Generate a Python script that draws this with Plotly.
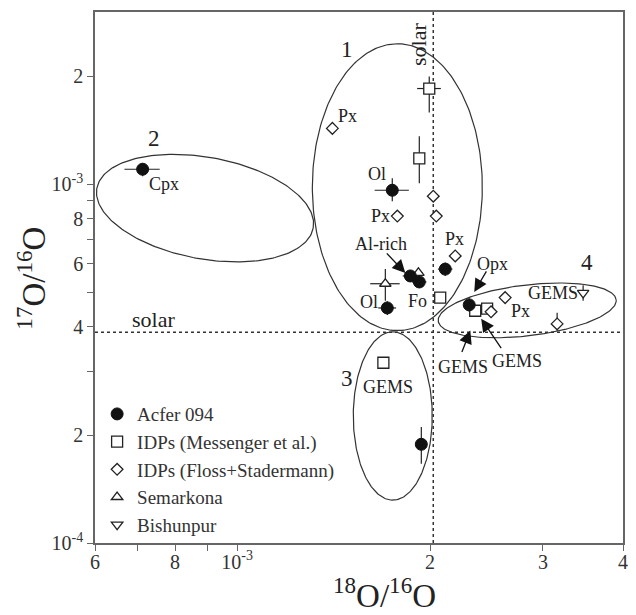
import math
import numpy as np
import plotly.graph_objects as go

# ---------------- data ----------------
acfer_x = [7.12e-4, 1.746e-3, 1.863e-3, 1.924e-3, 1.715e-3, 2.112e-3, 2.302e-3, 1.938e-3]
acfer_y = [1.101e-3, 9.62e-4, 5.55e-4, 5.34e-4, 4.52e-4, 5.80e-4, 4.61e-4, 1.884e-4]
acfer_ex = [0.045e-3, 0.107e-3, 0.05e-3, 0.05e-3, 0.055e-3, 0.055e-3, 0.03e-3, 0.02e-3]
acfer_eyp = [0.043e-3, 0.077e-3, 0.02e-3, 0.02e-3, 0.02e-3, 0.025e-3, 0.02e-3, 0.022e-3]
acfer_eym = [0.049e-3, 0.065e-3, 0.02e-3, 0.02e-3, 0.02e-3, 0.025e-3, 0.02e-3, 0.022e-3]

mess_x = [1.994e-3, 1.924e-3, 2.074e-3, 1.691e-3, 2.352e-3, 2.455e-3]
mess_y = [1.848e-3, 1.181e-3, 4.83e-4, 3.18e-4, 4.44e-4, 4.50e-4]
mess_ex = [0.085e-3, 0.025e-3, 0, 0, 0, 0]
mess_eyp = [0.147e-3, 0.18e-3, 0, 0, 0, 0]
mess_eym = [0.263e-3, 0.175e-3, 0, 0.012e-3, 0, 0]

floss_x = [1.408e-3, 2.023e-3, 2.045e-3, 1.778e-3, 2.189e-3, 2.619e-3, 3.157e-3, 2.490e-3]
floss_y = [1.431e-3, 9.26e-4, 8.15e-4, 8.15e-4, 6.31e-4, 4.83e-4, 4.08e-4, 4.41e-4]
floss_eyp = [0, 0, 0, 0, 0, 0, 0.03e-3, 0]
floss_eym = [0, 0, 0, 0, 0, 0, 0.017e-3, 0]

sem_x = [1.703e-3, 1.918e-3]
sem_y = [5.28e-4, 5.66e-4]
sem_ex = [0.09e-3, 0.03e-3]
sem_eyp = [0.052e-3, 0.02e-3]
sem_eym = [0.055e-3, 0.02e-3]

bish_x = [3.466e-3]
bish_y = [4.98e-4]
bish_ey = [0.025e-3]

solar_18 = 2.023e-3
solar_17 = 3.87e-4

x_tickvals = [6e-4, 7e-4, 8e-4, 9e-4, 1e-3, 2e-3, 3e-3, 4e-3]
x_ticktext = ["6", "", "8", "", "10<sup>-3</sup>", "2", "3", "4"]
y_tickvals = [1e-4, 2e-4, 3e-4, 4e-4, 5e-4, 6e-4, 7e-4, 8e-4, 9e-4, 1e-3, 2e-3]
y_ticktext = ["10<sup>-4</sup>", "2", "", "4", "", "6", "", "8", "", "10<sup>-3</sup>", "2"]

# ---------------- layout geometry ----------------
# (page body has an 8px default margin, so the figure is 8px smaller)
W, H = 628, 607
ML, MR, MT, MB = 87, 13, 2, 72
PW, PH = W - ML - MR, H - MT - MB
XR = [math.log10(6e-4), math.log10(4e-3)]
YR = [-4.0, math.log10(3.02e-3)]
KX = PW / (XR[1] - XR[0])
KY = PH / (YR[1] - YR[0])

# region outlines: centre (data), semi-axes (px), angle (deg, y up)
regions = [
    (1.778e-3, 9.81e-4, 144, 85, 90),
    (8.91e-4, 8.58e-4, 110, 51, -10.5),
    (1.749e-3, 2.26e-4, 84.5, 39.5, 90),
    (2.835e-3, 4.45e-4, 89.6, 25.5, 6.9),
]

SERIF = "Liberation Serif"
INK = "#222"
AX = "#666"

fig = go.Figure()

t = np.linspace(0, 2 * np.pi, 241)
for cx, cy, a, b, ang in regions:
    ph = math.radians(ang)
    u, v = a * np.cos(t), b * np.sin(t)
    dx = u * math.cos(ph) - v * math.sin(ph)
    dy = u * math.sin(ph) + v * math.cos(ph)
    ex = 10 ** (math.log10(cx) + dx / KX)
    ey = 10 ** (math.log10(cy) + dy / KY)
    fig.add_trace(go.Scatter(x=ex, y=ey, mode="lines", line=dict(color="#333", width=1.2),
                             showlegend=False, hoverinfo="skip"))

# solar lines
fig.add_trace(go.Scatter(x=[6e-4, 4e-3], y=[solar_17, solar_17], mode="lines",
                         line=dict(color="#333", width=1.5, dash="3px,3px"),
                         showlegend=False, hoverinfo="skip"))
fig.add_trace(go.Scatter(x=[solar_18, solar_18], y=[1e-4, 3.02e-3], mode="lines",
                         line=dict(color="#333", width=1.5, dash="3px,3px"),
                         showlegend=False, hoverinfo="skip"))

def err(arr_p, arr_m=None):
    d = dict(type="data", array=arr_p, color=INK, thickness=1.2, width=0, visible=True)
    if arr_m is not None:
        d["symmetric"] = False
        d["arrayminus"] = arr_m
    return d

mk_line = dict(color=INK, width=1.3)

fig.add_trace(go.Scatter(x=mess_x, y=mess_y, mode="markers", name="IDPs (Messenger et al.)",
                         error_x=err(mess_ex), error_y=err(mess_eyp, mess_eym),
                         marker=dict(symbol="square", size=11, color="white", line=mk_line)))
fig.add_trace(go.Scatter(x=floss_x, y=floss_y, mode="markers", name="IDPs (Floss+Stadermann)",
                         error_y=err(floss_eyp, floss_eym),
                         marker=dict(symbol="diamond", size=9, color="white", line=mk_line)))
fig.add_trace(go.Scatter(x=sem_x, y=sem_y, mode="markers", name="Semarkona",
                         error_x=err(sem_ex), error_y=err(sem_eyp, sem_eym),
                         marker=dict(symbol="triangle-up", size=10, color="white", line=mk_line)))
fig.add_trace(go.Scatter(x=bish_x, y=bish_y, mode="markers", name="Bishunpur",
                         error_y=err(bish_ey),
                         marker=dict(symbol="triangle-down", size=10, color="white", line=mk_line)))
fig.add_trace(go.Scatter(x=acfer_x, y=acfer_y, mode="markers", name="Acfer 094",
                         error_x=err(acfer_ex), error_y=err(acfer_eyp, acfer_eym),
                         marker=dict(symbol="circle", size=12, color="#111", line=dict(color="#111", width=1))))

# text labels (data coords)
labels = [
    ("Px", 1.485e-3, 1.545e-3), ("Cpx", 7.68e-4, 1.0e-3), ("Ol", 1.655e-3, 1.066e-3),
    ("Px", 1.673e-3, 8.15e-4), ("Al-rich", 1.679e-3, 6.81e-4), ("Px", 2.181e-3, 7.03e-4),
    ("Opx", 2.50e-3, 5.99e-4), ("Ol", 1.608e-3, 4.70e-4), ("Fo", 1.910e-3, 4.73e-4),
    ("Px", 2.764e-3, 4.44e-4), ("GEMS", 3.111e-3, 4.98e-4), ("GEMS", 1.721e-3, 2.73e-4),
    ("GEMS", 2.253e-3, 3.10e-4), ("GEMS", 2.734e-3, 3.22e-4),
]
region_labels = [("1", 1.485e-3, 2.371e-3), ("2", 7.41e-4, 1.342e-3),
                 ("3", 1.485e-3, 2.87e-4), ("4", 3.513e-3, 6.07e-4)]
arrows = [  # head (data), tail offset (px)
    (1.830e-3, 5.66e-4, -20, -21),
    (2.344e-3, 5.01e-4, 13, -22),
    (2.311e-3, 3.91e-4, -9, 23),
    (2.403e-3, 4.22e-4, 21, 31),
]

ann = []
for txt, x, y in labels:
    ann.append(dict(text=txt, x=math.log10(x), y=math.log10(y), xref="x", yref="y",
                    showarrow=False, font=dict(family=SERIF, size=18, color=INK)))
for txt, x, y in region_labels:
    ann.append(dict(text=txt, x=math.log10(x), y=math.log10(y), xref="x", yref="y",
                    showarrow=False, font=dict(family=SERIF, size=23, color=INK)))
for x, y, axp, ayp in arrows:
    ann.append(dict(text="", x=math.log10(x), y=math.log10(y), xref="x", yref="y",
                    showarrow=True, ax=axp, ay=ayp, arrowhead=2, arrowsize=2.0,
                    arrowwidth=1.3, arrowcolor="#111"))
ann.append(dict(text="solar", x=math.log10(7.41e-4), y=math.log10(4.19e-4), xref="x", yref="y",
                showarrow=False, font=dict(family=SERIF, size=22, color=INK)))
ann.append(dict(text="solar", x=math.log10(1.917e-3), y=math.log10(2.448e-3), xref="x", yref="y",
                showarrow=False, textangle=-90, font=dict(family=SERIF, size=22, color=INK)))
ann.append(dict(text="<sup>18</sup>O/<sup>16</sup>O", x=0.549, y=-0.094, xref="paper", yref="paper",
                showarrow=False, xanchor="center", yanchor="middle",
                font=dict(family=SERIF, size=33, color=INK)))
ann.append(dict(text="<sup>17</sup>O/<sup>16</sup>O", x=-0.12, y=0.499, xref="paper", yref="paper",
                showarrow=False, textangle=-90, xanchor="center", yanchor="middle",
                font=dict(family=SERIF, size=33, color=INK)))

fig.update_layout(
    width=W, height=H,
    margin=dict(l=ML, r=MR, t=MT, b=MB),
    paper_bgcolor="white", plot_bgcolor="white",
    annotations=ann,
    showlegend=True,
    legend=dict(x=0.004, y=-0.002, xanchor="left", yanchor="bottom",
                bgcolor="rgba(0,0,0,0)", borderwidth=0, traceorder="normal",
                font=dict(family=SERIF, size=19, color="#333")),
    xaxis=dict(type="log", range=XR, tickvals=x_tickvals, ticktext=x_ticktext,
               ticks="outside", ticklen=6, tickcolor=AX, tickwidth=1.3,
               ticklabelstandoff=-6,
               showline=True, linecolor=AX, linewidth=1.5, mirror=True,
               showgrid=False, zeroline=False,
               tickfont=dict(family=SERIF, size=20, color="#333")),
    yaxis=dict(type="log", range=YR, tickvals=y_tickvals, ticktext=y_ticktext,
               ticks="outside", ticklen=6, tickcolor=AX, tickwidth=1.3,
               showline=True, linecolor=AX, linewidth=1.5, mirror=True,
               showgrid=False, zeroline=False,
               tickfont=dict(family=SERIF, size=20, color="#333")),
)

order = ["Acfer 094", "IDPs (Messenger et al.)", "IDPs (Floss+Stadermann)", "Semarkona", "Bishunpur"]
for tr in fig.data:
    if tr.name in order:
        tr.legendrank = order.index(tr.name) + 1

fig.write_html("out.html")
